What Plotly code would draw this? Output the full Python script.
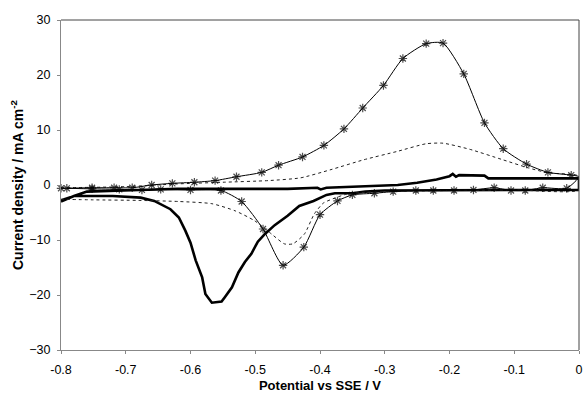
import plotly.graph_objects as go

# Starred curve (CV with markers): forward then reverse scan
star_x = [-0.800, -0.752, -0.718, -0.690, -0.660, -0.628, -0.594, -0.562, -0.529, -0.490,
          -0.464, -0.427, -0.394, -0.363, -0.334, -0.302, -0.272, -0.236, -0.210, -0.178,
          -0.146, -0.117, -0.081, -0.048, -0.012, 0.000,
          -0.019, -0.056, -0.083, -0.105, -0.131, -0.163, -0.193, -0.225, -0.252, -0.287,
          -0.316, -0.350, -0.373, -0.400, -0.425, -0.457, -0.488, -0.521, -0.553, -0.600,
          -0.646, -0.675, -0.710, -0.752, -0.791]
star_y = [-0.6, -0.5, -0.5, -0.5, 0.0, 0.3, 0.5, 0.8, 1.5, 2.3,
          3.6, 5.1, 7.2, 10.2, 14.0, 18.1, 23.0, 25.7, 25.8, 20.2,
          11.3, 6.6, 3.8, 2.3, 1.8, 1.5,
          -0.6, -0.5, -1.0, -1.0, -0.5, -0.9, -1.0, -1.0, -1.0, -1.2,
          -1.5, -1.8, -2.9, -5.4, -11.3, -14.6, -8.0, -3.0, -1.0, -0.9,
          -0.8, -0.9, -0.8, -0.7, -0.6]

# Dashed curve: forward then reverse scan
dash_x = [-0.800, -0.700, -0.620, -0.550, -0.480, -0.430, -0.383, -0.332, -0.281, -0.236,
          -0.210, -0.169, -0.118, -0.078, -0.047, 0.000,
          0.000, -0.100, -0.200, -0.300, -0.340, -0.360, -0.380, -0.395, -0.409, -0.424,
          -0.442, -0.455, -0.475, -0.501, -0.531, -0.567, -0.618, -0.680, -0.750, -0.800]
dash_y = [-0.5, -0.3, 0.2, 0.5, 0.8, 1.3, 2.8, 4.6, 6.1, 7.5,
          7.6, 6.5, 4.6, 3.1, 2.2, 1.6,
          -0.9, -0.9, -1.0, -1.2, -1.4, -1.7, -2.5, -3.3, -5.3, -8.9,
          -10.7, -10.7, -8.9, -6.5, -4.7, -3.4, -3.0, -2.8, -2.7, -2.6]

# Thick solid curve: forward then reverse scan
thick_x = [-0.800, -0.780, -0.760, -0.720, -0.680, -0.620, -0.550, -0.450, -0.404, -0.399,
           -0.390, -0.300, -0.280, -0.250, -0.220, -0.200, -0.195, -0.190, -0.185, -0.146,
           -0.140, 0.000,
           0.000, -0.100, -0.200, -0.300, -0.330, -0.350, -0.377, -0.390, -0.410, -0.432,
           -0.450, -0.470, -0.485, -0.496, -0.506, -0.516, -0.526, -0.536, -0.547, -0.552,
           -0.567, -0.577, -0.582, -0.592, -0.600, -0.608, -0.618, -0.631, -0.656, -0.677,
           -0.720, -0.780, -0.800]
thick_y = [-3.0, -2.0, -1.2, -1.0, -0.9, -0.7, -0.7, -0.7, -0.5, -0.8,
           -0.5, -0.2, 0.0, 0.4, 1.0, 1.6, 2.0, 1.5, 1.8, 1.7,
           1.2, 1.2,
           -0.9, -0.9, -1.0, -1.0, -1.2, -1.5, -1.5, -1.8, -2.9, -3.8,
           -5.6, -7.3, -8.9, -10.3, -12.5, -14.0, -15.9, -18.6, -20.4, -21.2,
           -21.4, -19.8, -16.8, -13.7, -10.5, -8.3, -5.9, -4.4, -2.9, -2.3,
           -2.0, -2.0, -2.8]

x_ticks = [-0.8, -0.7, -0.6, -0.5, -0.4, -0.3, -0.2, -0.1, 0]
x_tick_labels = ["-0.8", "-0.7", "-0.6", "-0.5", "-0.4", "-0.3", "-0.2", "-0.1", "0"]
y_ticks = [-30, -20, -10, 0, 10, 20, 30]

fig = go.Figure()

fig.add_trace(go.Scatter(
    x=thick_x, y=thick_y, mode="lines",
    line=dict(color="black", width=2.6), showlegend=False))

fig.add_trace(go.Scatter(
    x=dash_x, y=dash_y, mode="lines",
    line=dict(color="#222222", width=1, dash="3px,3px", shape="spline", smoothing=0.6),
    showlegend=False))

star_sizes = [0 if xv == 0 else 7 for xv in star_x]
fig.add_trace(go.Scatter(
    x=star_x, y=star_y, mode="lines+markers",
    line=dict(color="black", width=1, shape="spline", smoothing=0.6),
    marker=dict(symbol="asterisk-open", size=star_sizes, color="black",
                line=dict(color="black", width=1.2)),
    showlegend=False, cliponaxis=False))

axis_font = dict(family="Liberation Sans, Arial, sans-serif", size=12.5, color="black")
xtitle_font = dict(family="Liberation Sans, Arial, sans-serif", size=13, color="black")
ytitle_font = dict(family="Liberation Sans, Arial, sans-serif", size=14, color="black")

fig.update_layout(
    width=588, height=396,
    margin=dict(l=61, r=5, t=20, b=46),
    paper_bgcolor="white", plot_bgcolor="white",
    xaxis=dict(
        range=[-0.8, 0], tickvals=x_ticks, ticktext=x_tick_labels,
        showgrid=False, zeroline=False,
        showline=True, linecolor="#888888", linewidth=1,
        ticks="outside", ticklen=3, tickcolor="#888888",
        ticklabelstandoff=5,
        tickfont=axis_font,
        title=dict(text="<b>Potential vs SSE / V</b>", font=xtitle_font, standoff=4),
    ),
    yaxis=dict(
        range=[-30, 30], tickvals=y_ticks,
        showgrid=False, zeroline=False,
        showline=True, linecolor="#888888", linewidth=1,
        ticks="outside", ticklen=3, tickcolor="#888888",
        ticklabelstandoff=4,
        tickfont=axis_font,
        title=dict(text="<b>Current density / mA cm<sup>-2</sup></b>", font=ytitle_font, standoff=2),
    ),
    shapes=[
        dict(type="line", xref="paper", yref="paper", x0=0, x1=1, y0=1, y1=1,
             line=dict(color="#444444", width=1)),
        dict(type="line", xref="paper", yref="paper", x0=1, x1=1, y0=0, y1=1,
             line=dict(color="#444444", width=1)),
    ],
)

fig.write_html("out.html")
